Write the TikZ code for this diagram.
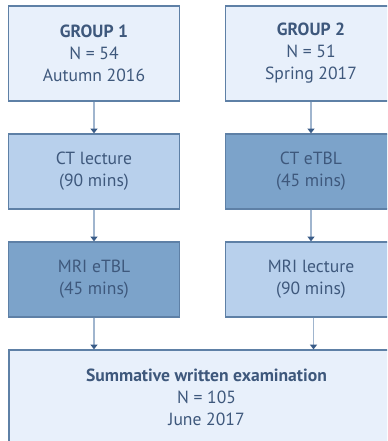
\documentclass[tikz,border=0pt]{standalone}
\usepackage{fontspec}
\setmainfont{PT Sans}
\usepackage{tikz}
\usetikzlibrary{arrows.meta,calc,positioning}
\definecolor{boxline}{RGB}{94,128,166}
\definecolor{lightbg}{RGB}{232,240,251}
\definecolor{midbg}{RGB}{184,208,236}
\definecolor{darkbg}{RGB}{124,163,202}
\definecolor{textcolor}{RGB}{62,88,124}
\definecolor{arrowline}{RGB}{160,181,206}
\definecolor{arrowtip}{RGB}{58,92,136}
\tikzset{
  stagebox/.style={draw=boxline,line width=0.9pt,minimum width=128.25pt,minimum height=56.25pt,
    align=center,text=textcolor,font=\fontsize{13.2}{16.5}\selectfont,inner sep=0pt},
  groupbox/.style={stagebox,fill=lightbg,minimum height=71.25pt},
  flowarrow/.style={draw=arrowline,line width=1.1pt,-{Triangle[length=3.6pt,width=5.2pt,color=arrowtip]}}
}
\begin{document}
\begin{tikzpicture}[x=0.75pt,y=-0.75pt]
  \clip (0,0) rectangle (387,441);
  \fill[white] (0,0) rectangle (387,441);

  % --- Groups ---
  \node[groupbox] (G1) at (94,53.5) {\textbf{GROUP 1}\\N = 54\\Autumn 2016};
  \node[groupbox] (G2) at (311,53.5) {\textbf{GROUP 2}\\N = 51\\Spring 2017};

  % --- First teaching session ---
  \node[stagebox,fill=midbg] (CTlec) at (94,171.5) {CT lecture\\(90 mins)};
  \node[stagebox,fill=darkbg] (CTtbl) at (311,171.5) {CT eTBL\\(45 mins)};

  % --- Second teaching session ---
  \node[stagebox,fill=darkbg] (MRItbl) at (94,279.5) {MRI eTBL\\(45 mins)};
  \node[stagebox,fill=midbg] (MRIlec) at (311,279.5) {MRI lecture\\(90 mins)};

  % --- Examination ---
  \node[
    groupbox,
    minimum width=296.25pt
  ] (exam) at (206.5,397.5) {\textbf{Summative written examination}\\N = 105\\June 2017};

  % --- Flow ---
  \draw[flowarrow] (G1) -- (CTlec);
  \draw[flowarrow] (G2) -- (CTtbl);
  \draw[flowarrow] (CTlec) -- (MRItbl);
  \draw[flowarrow] (CTtbl) -- (MRIlec);
  \draw[flowarrow] (MRItbl.south) -- (MRItbl.south |- exam.north);
  \draw[flowarrow] ($(MRIlec.south)+(2.5,0)$) -- ($(MRIlec.south |- exam.north)+(2.5,0)$);

\end{tikzpicture}
\end{document}
